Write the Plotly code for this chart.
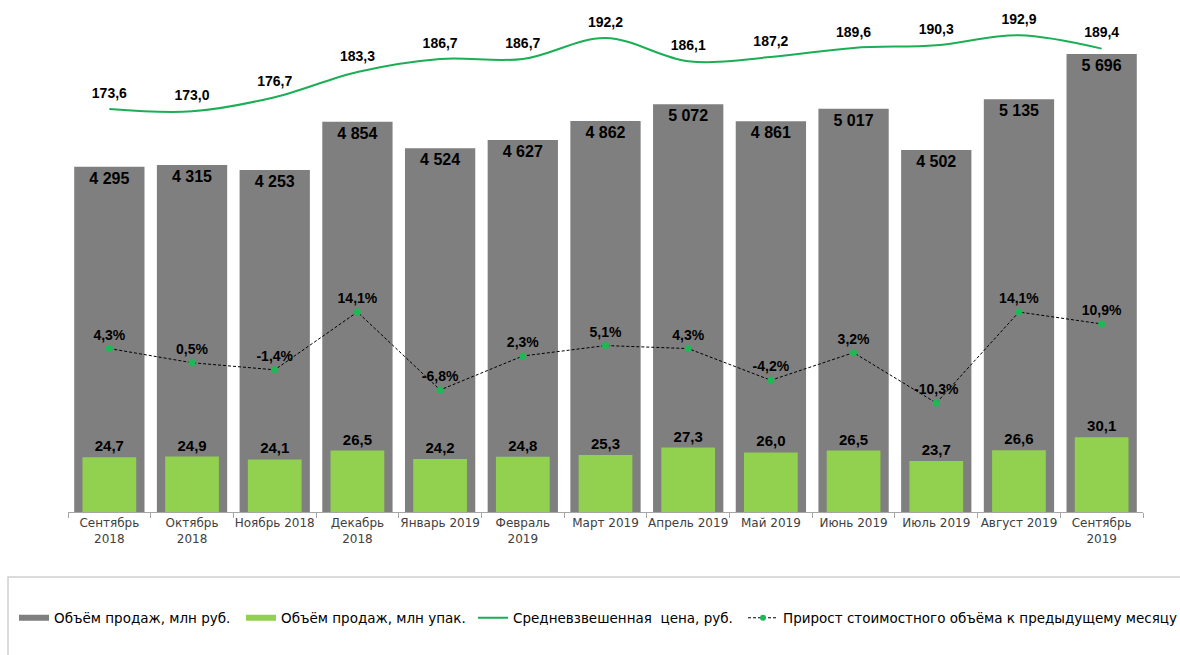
import plotly.graph_objects as go

months = ["Сентябрь<br>2018", "Октябрь<br>2018", "Ноябрь 2018", "Декабрь<br>2018", "Январь 2019",
          "Февраль<br>2019", "Март 2019", "Апрель 2019", "Май 2019", "Июнь 2019", "Июль 2019",
          "Август 2019", "Сентябрь<br>2019"]
sales_rub = [4295, 4315, 4253, 4854, 4524, 4627, 4862, 5072, 4861, 5017, 4502, 5135, 5696]
sales_pack = [24.7, 24.9, 24.1, 26.5, 24.2, 24.8, 25.3, 27.3, 26.0, 26.5, 23.7, 26.6, 30.1]
avg_price = [173.6, 173.0, 176.7, 183.3, 186.7, 186.7, 192.2, 186.1, 187.2, 189.6, 190.3, 192.9, 189.4]
growth = [4.3, 0.5, -1.4, 14.1, -6.8, 2.3, 5.1, 4.3, -4.2, 3.2, -10.3, 14.1, 10.9]

names = ["Объём продаж, млн руб.", "Объём продаж, млн упак.",
         "Средневзвешенная  цена, руб.", "Прирост стоимостного объёма к предыдущему месяцу"]

GREY = "#7f7f7f"
LIGHT_GREEN = "#92d050"
LINE_GREEN = "#1aae55"
MARK_GREEN = "#1db954"

def fmt_int(v):
    return f"{v:,}".replace(",", " ")

def fmt_dec(v):
    return f"{v:.1f}".replace(".", ",")

L, R, T, B = 68, 37, 20, 143
W, H = 1180, 655
ph = H - T - B
pw = W - L - R

fig = go.Figure()
fig.add_trace(go.Bar(
    x=months, y=sales_rub, name=names[0], width=0.85, showlegend=False,
    marker=dict(color=GREY, line=dict(width=0)),
    text=[fmt_int(v) for v in sales_rub], textposition="inside", insidetextanchor="end",
    textfont=dict(family="Liberation Sans", size=16, color="#000000", weight="bold"),
    constraintext="none", yaxis="y"))
fig.add_trace(go.Bar(
    x=months, y=sales_pack, name=names[1], width=0.65, showlegend=False,
    marker=dict(color=LIGHT_GREEN, line=dict(width=0)),
    text=[fmt_dec(v) for v in sales_pack], textposition="outside",
    textfont=dict(family="Liberation Sans", size=15, color="#000000", weight="bold"),
    constraintext="none", cliponaxis=False, yaxis="y2"))
fig.add_trace(go.Scatter(
    x=months, y=avg_price, name=names[2], mode="lines+markers+text", showlegend=False,
    line=dict(color=LINE_GREEN, width=2, shape="spline", smoothing=1),
    marker=dict(size=11, color="rgba(0,0,0,0)"),
    text=[fmt_dec(v) for v in avg_price], textposition="top center",
    textfont=dict(family="Liberation Sans", size=14, color="#000000", weight="bold"),
    cliponaxis=False, yaxis="y3"))
fig.add_trace(go.Scatter(
    x=months, y=growth, name=names[3], mode="lines+markers+text", showlegend=False,
    line=dict(color="#000000", width=1, dash="3px,2px"),
    marker=dict(color=MARK_GREEN, size=7),
    text=[fmt_dec(v) + "%" for v in growth], textposition="top center",
    textfont=dict(family="Liberation Sans", size=14, color="#000000", weight="bold"),
    cliponaxis=False, yaxis="y4"))

# legend entries (symbols styled like the reference), one legend box per entry
fig.add_trace(go.Scatter(x=[months[0]], y=[None], name=names[0], mode="lines",
                         line=dict(color=GREY, width=6), yaxis="y", legend="legend"))
fig.add_trace(go.Scatter(x=[months[0]], y=[None], name=names[1], mode="lines",
                         line=dict(color=LIGHT_GREEN, width=6), yaxis="y", legend="legend2"))
fig.add_trace(go.Scatter(x=[months[0]], y=[None], name=names[2], mode="lines",
                         line=dict(color=LINE_GREEN, width=2), yaxis="y", legend="legend3"))
fig.add_trace(go.Scatter(x=[months[0]], y=[None], name=names[3], mode="lines+markers",
                         line=dict(color="#000000", width=1, dash="3px,2px"),
                         marker=dict(color=MARK_GREEN, size=6), yaxis="y", legend="legend4"))

legend_text_x = [54, 281, 513, 783]

def legend_box(px):
    return dict(orientation="h", x=(px - 40 - L) / pw, xanchor="left",
                y=(H - B - 618) / ph, yanchor="middle",
                font=dict(family="DejaVu Sans", size=13.5, color="#000000"),
                bgcolor="rgba(0,0,0,0)", itemwidth=30)

hidden = dict(visible=False, showgrid=False, zeroline=False, fixedrange=True)
fig.update_layout(
    width=W, height=H,
    margin=dict(l=L, r=R, t=T, b=B, autoexpand=False),
    paper_bgcolor="white", plot_bgcolor="white",
    barmode="overlay",
    font=dict(family="DejaVu Sans", size=12, color="#404040"),
    showlegend=True,
    legend=legend_box(legend_text_x[0]),
    legend2=legend_box(legend_text_x[1]),
    legend3=legend_box(legend_text_x[2]),
    legend4=legend_box(legend_text_x[3]),
    xaxis=dict(showgrid=False, zeroline=False, showline=True, linecolor="#a6a6a6", linewidth=1,
               ticks="outside", tickson="boundaries", ticklen=5, tickcolor="#a6a6a6",
               tickfont=dict(family="DejaVu Sans", size=12, color="#404040"),
               tickangle=0, range=[-0.5, 12.5]),
    yaxis=dict(range=[0, ph / 0.0804], **hidden),
    yaxis2=dict(range=[9.9, 9.9 + ph / 3.70], overlaying="y", **hidden),
    yaxis3=dict(range=[173.6 - (ph - 89) / 3.82, 173.6 + 89 / 3.82], overlaying="y", **hidden),
    yaxis4=dict(range=[14.1 - 200 / 3.73, 14.1 + (ph - 200) / 3.73], overlaying="y", **hidden),
    shapes=[dict(type="rect", xref="paper", yref="paper",
                 x0=(8 - L) / pw, x1=(1200 - L) / pw,
                 y0=(H - B - 577) / ph, y1=(H - B - 680) / ph,
                 line=dict(color="#cfcfcf", width=1.5), fillcolor="rgba(0,0,0,0)", layer="below")],
)
fig.write_html("out.html", config={"displayModeBar": False},
               post_script="document.body.style.margin='0px';document.body.style.overflow='hidden';")
